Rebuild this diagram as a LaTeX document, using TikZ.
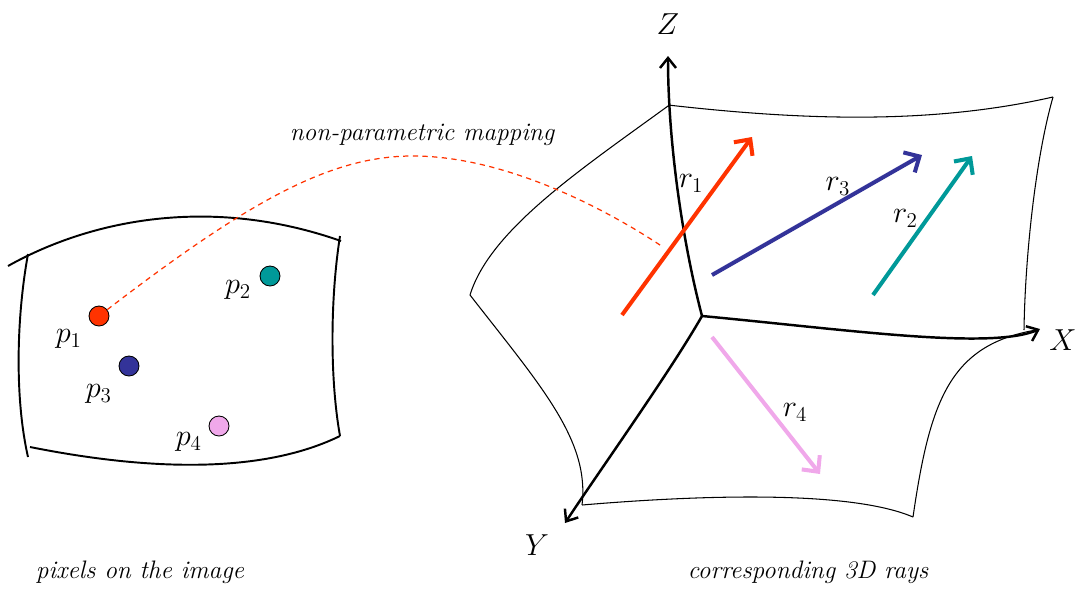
\documentclass[tikz,border=0pt]{standalone}
\usepackage{tikz}
\usetikzlibrary{positioning,arrows.meta}
\usepackage{xcolor}
\usepackage{amsmath}

\definecolor{rayred}{RGB}{255,51,0}
\definecolor{rayteal}{RGB}{0,153,153}
\definecolor{raynavy}{RGB}{51,51,153}
\definecolor{raypink}{RGB}{240,168,234}

\begin{document}
\begin{tikzpicture}[
    x=0.02cm,
    y=-0.02cm,
    pixel/.style={
        circle,
        draw,
        line width=0.5pt,
        minimum size=0.4cm,
        inner sep=0pt
    },
    sheet/.style={line width=0.6pt, line join=round},
    imgsheet/.style={line width=1.1pt},
    axis/.style={line width=1.4pt, -{Straight Barb[length=2mm,width=3.2mm]}},
    ray/.style={line width=2.3pt, -{Straight Barb[length=2.4mm,width=4.6mm]}},
    lbl/.style={font=\LARGE, text=black},
    caption/.style={font=\Large\itshape}
]
\useasboundingbox (0,0) rectangle (1078,592);

% image plane
\draw[imgsheet] (8,266) .. controls (90,220) and (210,195) .. (341,241);
\draw[imgsheet] (28,254) .. controls (16,320) and (15,400) .. (28,457);
\draw[imgsheet] (340,236) .. controls (330,300) and (330,380) .. (340,436);
\draw[imgsheet] (30,447) .. controls (120,465) and (250,480) .. (340,436);

% 3D sheets
\draw[sheet] (668,105) .. controls (800,120) and (930,125) .. (1053,97);
\draw[sheet] (1053,97) .. controls (1035,160) and (1025,260) .. (1024,330);
\draw[sheet] (668,106) .. controls (580,170) and (490,230) .. (470,295);
\draw[sheet] (470,295) .. controls (540,385) and (590,440) .. (582,505);
\draw[sheet] (582,505) .. controls (700,495) and (850,490) .. (913,517);
\draw[sheet] (913,517) .. controls (930,400) and (950,345) .. (1036,330);

% axes
\coordinate (O) at (702,316);
\coordinate (ztip) at (668,56);
\coordinate (xtip) at (1040,329);
\coordinate (ytip) at (565,523);
\draw[axis] (O) .. controls (682,240) and (668,140) .. (ztip);
\draw[axis] (O) .. controls (850,330) and (990,350) .. (xtip);
\draw[axis] (O) .. controls (670,372) and (600,470) .. (ytip);

\node[lbl] (zlbl) at (668,24) {$Z$};
\node[lbl] (xlbl) at (1063,340) {$X$};
\node[lbl] (ylbl) at (537,545) {$Y$};

% rays
\coordinate (r1s) at (622,315);
\coordinate (r1e) at (752,137);
\coordinate (r2s) at (873,295);
\coordinate (r2e) at (972,156);
\coordinate (r3s) at (712,275);
\coordinate (r3e) at (922,155);
\coordinate (r4s) at (712,337);
\coordinate (r4e) at (820,474);

% pixels
\node[pixel, fill=rayred] (p1) at (99,316) {};
\node[pixel, fill=rayteal] (p2) at (270,276) {};
\node[pixel, fill=raynavy] (p3) at (129,366) {};
\node[pixel, fill=raypink] (p4) at (219,426) {};

\node[lbl, below left=0pt and 2pt of p1] (p1lbl) {$p_1$};
\node[lbl, below left=-5pt and 3pt of p2] (p2lbl) {$p_2$};
\node[lbl, below left=3pt and 2pt of p3] (p3lbl) {$p_3$};
\node[lbl, below left=-4pt and 2pt of p4] (p4lbl) {$p_4$};

% mapping
\coordinate (mappeak) at (410,156);
\coordinate (hit) at (663,247);
\draw[rayred, line width=0.7pt, dash pattern=on 3pt off 2.5pt]
    (p1) .. controls (250,200) and (330,157) .. (mappeak)
         .. controls (500,155) and (600,205) .. (hit);

\draw[ray, rayred] (r1s) -- node[lbl, pos=0.7, left=1pt, yshift=4pt] {$r_1$} (r1e);
\draw[ray, raynavy] (r3s) -- node[lbl, pos=0.6, above=0pt] {$r_3$} (r3e);
\draw[ray, rayteal] (r2s) -- node[lbl, pos=0.55, left=1pt] {$r_2$} (r2e);
\draw[ray, raypink] (r4s) -- node[lbl, pos=0.55, right=2pt] {$r_4$} (r4e);

% captions
\node[caption] (mapcap) at (422,135) {non-parametric mapping};
\node[caption] (imgcap) at (140,572) {pixels on the image};
\node[caption] (raycap) at (808,572) {corresponding 3D rays};

\end{tikzpicture}
\end{document}
